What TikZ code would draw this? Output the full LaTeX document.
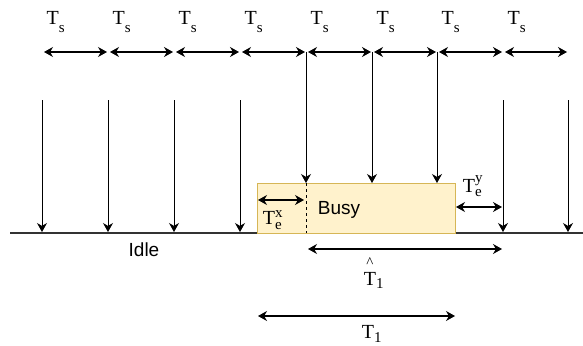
\documentclass[tikz,border=0pt]{standalone}
\usepackage{amsmath}
\usepackage{fontspec}
\setmainfont{Liberation Serif}
\newfontfamily\sansf{Liberation Sans}
\usetikzlibrary{arrows.meta}
\definecolor{busyfill}{RGB}{255,242,204}
\definecolor{busydraw}{RGB}{214,182,86}
\definecolor{axisc}{RGB}{50,50,50}
\newcommand{\smtxt}[1]{\text{\fontsize{15}{16}\selectfont #1}}
\begin{document}
\begin{tikzpicture}[x=1pt,y=-1pt,
  tlab/.style={inner sep=0pt,font=\fontsize{20}{24}\selectfont},
  slab/.style={inner sep=0pt,font=\sansf\fontsize{19}{22}\selectfont},
  darr/.style={{Stealth[length=9pt,width=10pt]}-{Stealth[length=9pt,width=10pt]},line width=1.1pt},
  varr/.style={-{Stealth[length=9pt,width=10pt]},line width=0.9pt},
]
\useasboundingbox (0,0) rectangle (583,345);
% axis
\coordinate (axL) at (10,233);
\coordinate (axR) at (583,233);
\draw[axisc,line width=1.4pt] (axL) -- (axR);
% busy box
\node[draw=busydraw,fill=busyfill,line width=0.6pt,minimum width=198pt,minimum height=50pt,inner sep=0pt,anchor=north west] (busy) at (257,183) {};
\node[slab] (busytxt) at (339,210) {Busy};
\node[slab] (idle) at (144,250) {Idle};
% top grid
\foreach \i/\x in {0/42,1/108,2/174,3/240,4/306,5/372,6/437,7/503,8/568}{
  \coordinate (t\i) at (\x,52);
  \coordinate (u\i) at (\x,100);
  \coordinate (b\i) at (\x,232);
  \coordinate (c\i) at (\x,183);
}
\foreach \i/\j in {0/1,1/2,2/3,3/4,4/5,5/6,6/7,7/8}{
  \draw[darr] ([xshift=2pt]t\i) -- ([xshift=-1pt]t\j);
  \node[tlab] (ts\i) at ([xshift=14pt,yshift=30pt]t\i) {T\textsubscript{\raisebox{-0.8ex}{\fontsize{15}{16}\selectfont s}}};
}
% vertical arrows
\foreach \i in {0,1,2,3,7,8}{ \draw[varr] (u\i) -- (b\i); }
\foreach \i in {4,5,6}{ \draw[varr] (t\i) -- (c\i); }
% dashed line in box
\draw[dashed,line width=0.9pt] (c4) -- (306,233);
% Te^x
\coordinate (ex1) at (258,200);
\coordinate (ex2) at (304,200);
\draw[darr] (ex1) -- (ex2);
\node[tlab] (tex) at (273,220) {$\text{T}_{\smtxt{e}}^{\smtxt{x}}$};
% Te^y
\coordinate (ey1) at (456,207);
\coordinate (ey2) at (502,207);
\draw[darr] (ey1) -- (ey2);
\node[tlab] (tey) at (473,186) {$\text{T}_{\smtxt{e}}^{\smtxt{y}}$};
% T1 hat
\coordinate (h1) at (308,249);
\coordinate (h2) at (502,249);
\draw[darr] (h1) -- (h2);
\node[tlab] (t1h) at (374,272) {$\overset{\smtxt{\^{}}}{\text{T}}_{\smtxt{1}}$};
% T1
\coordinate (l1) at (258,316);
\coordinate (l2) at (455,316);
\draw[darr] (l1) -- (l2);
\node[tlab] (t1) at (372,334) {$\text{T}_{\smtxt{1}}$};
\end{tikzpicture}
\end{document}
